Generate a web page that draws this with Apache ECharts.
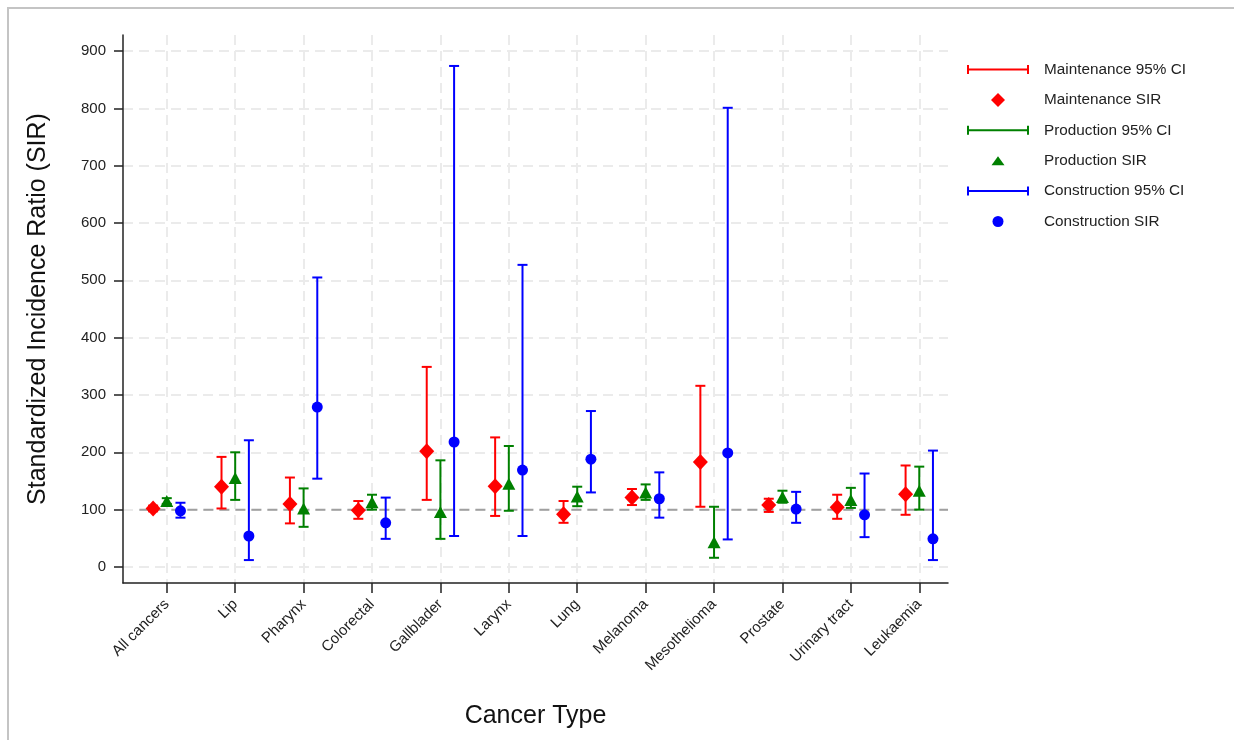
<!DOCTYPE html>
<html>
<head>
<meta charset="utf-8">
<script src="https://cdn.jsdelivr.net/npm/echarts@6/dist/echarts.min.js"></script>
<style>
html,body{margin:0;padding:0;background:#fff;}
#chart{width:1234px;height:740px;}
</style>
</head>
<body>
<div id="chart"></div>
<script>
// ---- Data ----
const categories = ['All cancers','Lip','Pharynx','Colorectal','Gallblader','Larynx','Lung','Melanoma','Mesothelioma','Prostate','Urinary tract','Leukaemia'];
const yTicks = [0,100,200,300,400,500,600,700,800,900];

const maintSIR = [102,140,110,99,202,141,92,121,183,108,104,127];
const maintLo  = [97,102,76,84,117,89,77,108,105,96,84,91];
const maintHi  = [107,192,156,115,349,226,115,136,316,119,126,177];

const prodSIR = [115,155,102,113,96,145,123,130,43,122,117,133];
const prodLo  = [110,117,70,100,49,98,106,117,16,112,103,100];
const prodHi  = [120,200,137,126,186,211,140,144,105,133,138,175];

const consSIR = [98,54,279,77,218,169,188,119,199,101,91,49];
const consLo  = [86,12,154,49,54,54,130,86,48,77,52,12];
const consHi  = [112,221,505,121,874,527,272,165,801,131,163,203];

// ---- Build ----
const FONT = 'Liberation Sans, Arial, Helvetica, sans-serif';
const groups = [
  {name:'Maintenance', color:'#ff0000', off:-0.2, sir:maintSIR, lo:maintLo, hi:maintHi, symbol:'diamond', size:[15,16],
   legendIcon:'path://M0,0M72,14M31,0L38,7L31,14L24,7Z'},
  {name:'Production', color:'#008000', off:0, sir:prodSIR, lo:prodLo, hi:prodHi, symbol:'triangle', size:[13,12],
   legendIcon:'path://M0,0M72,14M31,2.5L37.5,11.5L24.5,11.5Z'},
  {name:'Construction', color:'#0000ff', off:0.2, sir:consSIR, lo:consLo, hi:consHi, symbol:'circle', size:11,
   legendIcon:'path://M0,0M72,14M25.5,7A5.5,5.5,0,1,0,36.5,7A5.5,5.5,0,1,0,25.5,7Z'}
];
const ciIcon = 'path://M0,0M72,14M0,2.5h2v9h-2zM0,6h62v2h-62zM60,2.5h2v9h-2z';

function ciRenderer(color){
  return function(params, api){
    const x = api.value(0);
    const p1 = api.coord([x, api.value(1)]);
    const p2 = api.coord([x, api.value(2)]);
    const hw = 5;
    const st = {stroke:color, lineWidth:2};
    return {type:'group', children:[
      {type:'line', shape:{x1:p1[0],y1:p1[1],x2:p2[0],y2:p2[1]}, style:st},
      {type:'line', shape:{x1:p1[0]-hw,y1:p1[1],x2:p1[0]+hw,y2:p1[1]}, style:st},
      {type:'line', shape:{x1:p2[0]-hw,y1:p2[1],x2:p2[0]+hw,y2:p2[1]}, style:st}
    ]};
  };
}

const series = [];
const legendData = [];
// reference line
series.push({
  type:'line', silent:true, symbol:'none', z:1,
  data:[[-0.4,100],[11.42,100]],
  lineStyle:{color:'#a0a0a0', width:2, type:[10,6]},
  tooltip:{show:false}
});
groups.forEach(g=>{
  series.push({
    name:g.name+' 95% CI', type:'custom', z:3,
    itemStyle:{color:g.color},
    renderItem:ciRenderer(g.color),
    data:categories.map((c,i)=>[i+g.off, g.lo[i], g.hi[i]])
  });
  series.push({
    name:g.name+' SIR', type:'scatter', z:4,
    symbol:g.symbol, symbolSize:g.size,
    itemStyle:{color:g.color, opacity:1},
    data:categories.map((c,i)=>[i+g.off, g.sir[i]])
  });
  legendData.push({name:g.name+' 95% CI', icon:ciIcon, itemStyle:{color:g.color}});
  legendData.push({name:g.name+' SIR', icon:g.legendIcon, itemStyle:{color:g.color}});
});

const gridLine = {show:true, lineStyle:{color:'#ebebeb', width:2, type:[10,6]}};
const option = {
  animation:false,
  backgroundColor:'#ffffff',
  graphic:[{type:'rect', shape:{x:8,y:8,width:1300,height:800}, style:{fill:'none', stroke:'#c4c4c4', lineWidth:2}, silent:true}],
  grid:{left:123, right:286, top:35, bottom:157, containLabel:false},
  legend:{
    orient:'vertical', left:967, top:62, itemGap:15.4, itemWidth:72, itemHeight:14, padding:0,
    symbolKeepAspect:true,
    textStyle:{fontSize:15.3, color:'#222', fontFamily:FONT},
    data:legendData
  },
  xAxis:{
    type:'value', min:-0.64, max:11.42,
    name:'Cancer Type', nameLocation:'middle', nameGap:121,
    nameTextStyle:{fontSize:25, color:'#111', fontFamily:FONT},
    axisLine:{show:true, onZero:false, lineStyle:{color:'#222', width:1.5}},
    axisTick:{show:true, length:10, customValues:categories.map((c,i)=>i), lineStyle:{color:'#222', width:1.5}},
    axisLabel:{customValues:categories.map((c,i)=>i), rotate:45, margin:19, fontSize:15, color:'#222', fontFamily:FONT,
      formatter:v=>categories[Math.round(v)]},
    splitLine:gridLine
  },
  yAxis:{
    type:'value', min:-28, max:928,
    name:'Standardized Incidence Ratio (SIR)', nameLocation:'middle', nameGap:72,
    nameTextStyle:{fontSize:25, color:'#111', fontFamily:FONT},
    axisLine:{show:true, onZero:false, lineStyle:{color:'#222', width:1.5}},
    axisTick:{show:true, length:9, customValues:yTicks, lineStyle:{color:'#222', width:1.5}},
    axisLabel:{customValues:yTicks, margin:17, fontSize:15, color:'#222', fontFamily:FONT},
    splitLine:gridLine
  },
  series:series
};
const chart = echarts.init(document.getElementById('chart'), null, {renderer:'canvas'});
chart.setOption(option);
</script>
</body>
</html>
